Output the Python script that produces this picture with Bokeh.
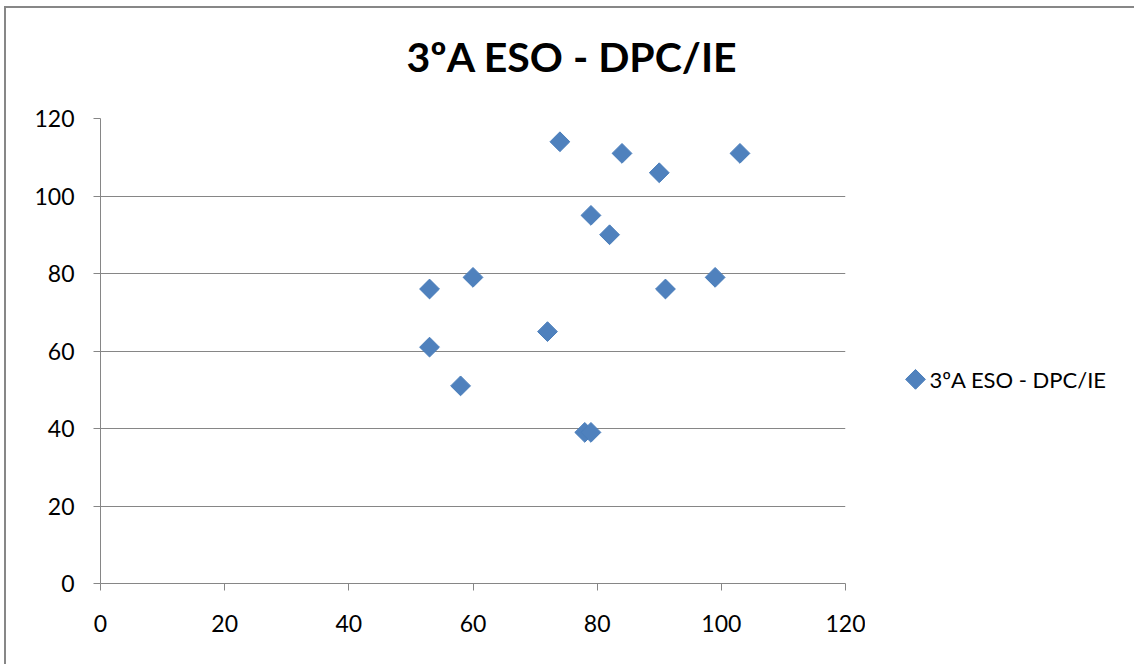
import math
from bokeh.plotting import figure
from bokeh.layouts import row
from bokeh.models import FixedTicker, Range1d, ColumnDataSource, Title
from bokeh.core.properties import value
from bokeh.embed import file_html
from bokeh.resources import INLINE

series_name = "3ºA ESO - DPC/IE"
x_values = [74, 84, 90, 103, 79, 82, 60, 53, 91, 99, 72, 53, 58, 78, 79]
y_values = [114, 111, 106, 111, 95, 90, 79, 76, 76, 79, 65, 61, 51, 39, 39]
ticks = [0, 20, 40, 60, 80, 100, 120]

FONT = "Lato"
GRAY = "#868686"
BLUE = "#4F81BD"
H = 656

p = figure(width=859, height=H, output_backend="svg", toolbar_location=None,
           x_range=Range1d(0, 120), y_range=Range1d(0, 120),
           min_border_left=94, min_border_right=20, min_border_top=110, min_border_bottom=81)

# empty spacer between frame and title
p.add_layout(Title(text=" ", text_font_size="1px", standoff=35), "above")

p.title.text = "3ºA ESO - DPC/IE"
p.title.align = "left"
p.title.offset = 306
p.title.text_font = FONT
p.title.text_font_size = "41px"
p.title.text_font_style = "bold"
p.title.text_color = "#000000"
p.title.standoff = 0
p.title.vertical_align = "bottom"

p.outline_line_color = None
p.background_fill_color = "white"
p.border_fill_color = "white"

for ax in (p.xaxis[0], p.yaxis[0]):
    ax.ticker = FixedTicker(ticks=ticks)
    ax.axis_line_color = GRAY
    ax.major_tick_line_color = GRAY
    ax.major_tick_out = 7
    ax.major_tick_in = 0
    ax.minor_tick_line_color = None
    ax.major_label_text_font = FONT
    ax.major_label_text_font_size = "23px"
    ax.major_label_text_color = "#000000"

p.yaxis.major_label_standoff = 19
p.xaxis.major_label_standoff = 24

p.xgrid.grid_line_color = None
p.ygrid.grid_line_color = GRAY
p.ygrid.ticker = FixedTicker(ticks=ticks)

src = ColumnDataSource(dict(x=x_values, y=y_values))
p.scatter("x", "y", source=src, marker="square", size=14, angle=math.pi / 4,
          fill_color=BLUE, line_color="#4A7EBB", line_width=1)

# legend panel (drawn as its own small figure so the diamond keeps its shape)
LW = 269
leg = figure(width=LW, height=H, output_backend="svg", toolbar_location=None,
             x_range=Range1d(0, LW), y_range=Range1d(0, H),
             min_border=0, outline_line_color=None)
leg.axis.visible = False
leg.grid.visible = False
leg.background_fill_color = "white"
leg.border_fill_color = "white"
leg.scatter([50], [288], marker="square", size=14, angle=math.pi / 4,
            fill_color=BLUE, line_color="#4A7EBB", line_width=1)
leg.text([64], [288], text=[series_name], text_font=value(FONT), text_font_size="22px",
         text_baseline="middle", text_align="left", text_color="#000000")

layout = row(p, leg, spacing=0)
layout.styles = {"border-left": "2px solid #878787", "border-top": "2px solid #878787",
                 "margin-left": "4px", "margin-top": "6px"}

open("out.html", "w").write(file_html(layout, INLINE))
